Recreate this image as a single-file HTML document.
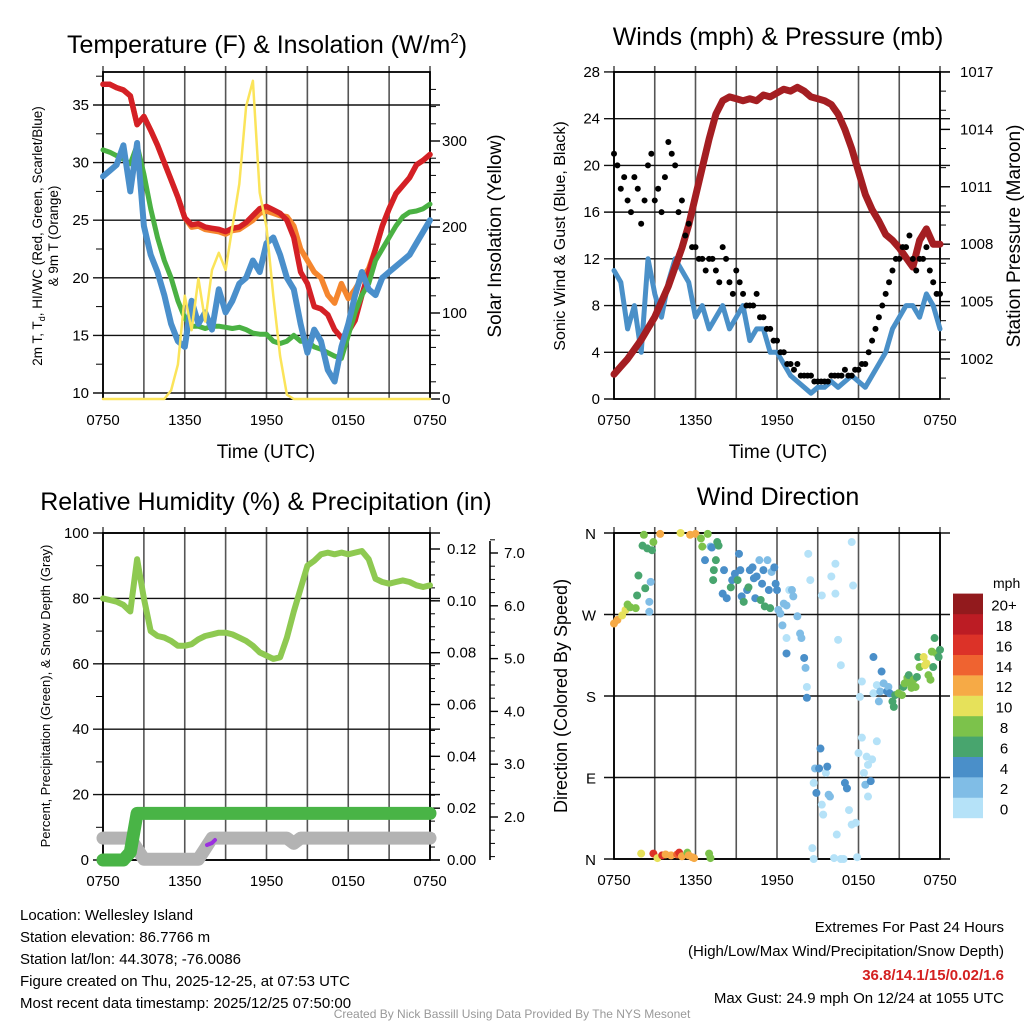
<!DOCTYPE html>
<html><head><meta charset="utf-8"><style>
body{margin:0;background:#fff;}
svg{display:block;font-family:"Liberation Sans",sans-serif;}
</style></head><body>
<svg id="chart" width="1024" height="1024" viewBox="0 0 1024 1024">
<rect width="1024" height="1024" fill="#fff"/>
<text x="267" y="53" font-size="25" text-anchor="middle">Temperature (F) &amp; Insolation (W/m<tspan font-size="15" dy="-10">2</tspan><tspan dy="10">)</tspan></text>
<text x="778" y="45" font-size="25" text-anchor="middle">Winds (mph) &amp; Pressure (mb)</text>
<text x="266" y="510" font-size="25" text-anchor="middle">Relative Humidity (%) &amp; Precipitation (in)</text>
<text x="778" y="505" font-size="25" text-anchor="middle">Wind Direction</text>
<text x="266" y="458" font-size="19" text-anchor="middle">Time (UTC)</text>
<text x="778" y="458" font-size="19" text-anchor="middle">Time (UTC)</text>
<text transform="translate(42,236) rotate(-90)" font-size="13.5" text-anchor="middle">2m T, T<tspan font-size="9" dy="3">d</tspan><tspan dy="-3">, HI/WC (Red, Green, Scarlet/Blue)</tspan></text>
<text transform="translate(58,236) rotate(-90)" font-size="13.5" text-anchor="middle">&amp; 9m T (Orange)</text>
<text transform="translate(501,236) rotate(-90)" font-size="19" text-anchor="middle">Solar Insolation (Yellow)</text>
<text transform="translate(565,236) rotate(-90)" font-size="16" text-anchor="middle">Sonic Wind &amp; Gust (Blue, Black)</text>
<text transform="translate(1020,236) rotate(-90)" font-size="19" text-anchor="middle">Station Pressure (Maroon)</text>
<text transform="translate(50,696) rotate(-90)" font-size="13" text-anchor="middle">Percent, Precipitation (Green), &amp; Snow Depth (Gray)</text>
<text transform="translate(567,696) rotate(-90)" font-size="18" text-anchor="middle">Direction (Colored By Speed)</text>
<text x="993" y="588" font-size="14">mph</text>
<g font-size="15">
<text x="20" y="920">Location: Wellesley Island</text>
<text x="20" y="942">Station elevation: 86.7766 m</text>
<text x="20" y="964">Station lat/lon: 44.3078; -76.0086</text>
<text x="20" y="986">Figure created on Thu, 2025-12-25, at 07:53 UTC</text>
<text x="20" y="1008">Most recent data timestamp: 2025/12/25 07:50:00</text>
</g>
<g font-size="15" text-anchor="end">
<text x="1004" y="932">Extremes For Past 24 Hours</text>
<text x="1004" y="956">(High/Low/Max Wind/Precipitation/Snow Depth)</text>
<text x="1004" y="980" fill="#d42020" font-weight="bold">36.8/14.1/15/0.02/1.6</text>
<text x="1004" y="1003">Max Gust: 24.9 mph On 12/24 at 1055 UTC</text>
</g>
<text x="512" y="1018" font-size="12" fill="#999" text-anchor="middle">Created By Nick Bassill Using Data Provided By The NYS Mesonet</text>
</svg>
<script>
// ---- data (half-hour samples, 0750 -> 0750 UTC) ----
const timeLabels = ["0750","1350","1950","0150","0750"];
const tempHI = [36.8,36.8,36.5,36.3,35.8,33.3,34,32.8,31.5,30,28.5,27,25.2,24.6,24.7,24.4,24.3,24.2,24.0,24.3,24.4,24.8,25.4,26.0,26.2,25.9,25.6,25.0,23.5,20.5,19.5,17.5,17.3,16.8,15.5,14.8,15.3,16.3,18.5,20.5,22.5,24.5,26,27.3,28,28.7,29.8,30.2,30.7];
const temp9m = [36.8,36.8,36.5,36.3,35.8,33.3,34,32.8,31.5,30,28.5,27,25.2,24.4,24.5,24.2,24.1,24.0,23.8,24.1,24.2,24.6,25.0,25.6,25.8,25.6,25.4,25.3,24.5,22.5,21.5,20.5,20,18.5,17.8,19.5,18.2,19,20,20.8,22.5,24.5,26,27.3,28,28.7,29.8,30.2,30.7];
const dewpt = [31.1,30.9,30.6,30.3,29.9,31.5,29,26,23.5,21.5,20,18,16.5,15.8,15.8,15.6,15.8,15.8,15.7,15.6,15.7,15.5,15.2,15.1,15.1,14.5,14.3,14.5,15.0,14.5,14.5,14,13.8,13.5,13.2,13,15,17,18.5,19.5,21.5,22.5,23.5,24.5,25.3,25.7,25.8,26,26.4];
const windChill = [28.8,29.3,29.8,31.5,27.5,31.7,24.5,22,20.5,18.5,16,14.5,14,18,16,17,15.5,19,17,18,19.5,20,21.5,20.5,23,23.5,22,20,19,16,13.5,15.5,14.5,12,11,14,16,18.5,20.5,19,18.5,20,20.5,21,21.5,22,23,24,25];
const solar = [0,0,0,0,0,0,0,0,0,0,10,40,120,80,140,90,150,170,150,200,250,340,370,240,200,120,50,5,0,0,0,0,0,0,0,0,0,0,0,0,0,0,0,0,0,0,0,0,0];
const wind = [11,10,6,8,4,12,9,7,10,12,11,10,7,8,6,7,8,6,7,8,5,6,6,4,4,3,2,1.5,1,0.5,1,1,1.5,1,1.5,2,1.5,1,2,3,4,6,7,8,8,7,9,8,6];
const gust = [21,18,17,19,15,20,17,16,22,20,17,15,13,12,12,11,13,10,11,9,8,9,7,6,5,4,3,3,2,2,1.5,1.5,2,2,2.5,2,2.5,3,5,7,9,11,12,13,12,12,13,10,9];
const gust2 = [20,19,16,18,17,21,18,19,21,16,14,13,12,11,12,10,12,9,10,8,8,7,6,5,4,3,2.5,2,2,1.5,1.5,1.5,2,2,2,2.5,3,4,6,8,10,12,13,14,11,12,11,9];
const pressure = [1001.2,1001.6,1002,1002.5,1003,1003.6,1004.2,1005,1005.8,1006.8,1007.8,1009,1010.5,1012,1013.5,1014.8,1015.5,1015.7,1015.6,1015.5,1015.6,1015.5,1015.8,1015.7,1015.9,1016.1,1016.0,1016.2,1016.0,1015.7,1015.6,1015.5,1015.3,1014.8,1014.0,1013.0,1011.8,1010.6,1009.8,1009.2,1008.5,1008.2,1007.8,1007.3,1006.8,1008.2,1008.8,1008.0,1008.0];
const humidity = [80,79.5,79,78,76,92,80,70,68.5,68,67,65.5,65.5,66,67.5,68.5,69,69.5,69.5,69,68,67,65.5,63.5,62.5,61.5,62,68,76,83,90,91.5,93.5,94,93.5,94,93.5,94,94.5,92,86,85,84.5,85,85.5,85,84,83.5,84];
const precip = [0,0,0,0,0.003,0.018,0.018,0.018,0.018,0.018,0.018,0.018,0.018,0.018,0.018,0.018,0.018,0.018,0.018,0.018,0.018,0.018,0.018,0.018,0.018,0.018,0.018,0.018,0.018,0.018,0.018,0.018,0.018,0.018,0.018,0.018,0.018,0.018,0.018,0.018,0.018,0.018,0.018,0.018,0.018,0.018,0.018,0.018,0.018];
const snow = [1.6,1.6,1.6,1.6,1.6,1.4,1.2,1.2,1.2,1.2,1.2,1.2,1.2,1.2,1.2,1.4,1.6,1.6,1.6,1.6,1.6,1.6,1.6,1.6,1.6,1.6,1.6,1.6,1.5,1.6,1.6,1.6,1.6,1.6,1.6,1.6,1.6,1.6,1.6,1.6,1.6,1.6,1.6,1.6,1.6,1.6,1.6,1.6,1.6];
const dirHours = [0,0.25,0.6,0.85,1.2,1.6,1.0,1.7,1.8,2.3,2.6,2.6,2.7,2.1,2.45,2.8,2.9,2.2,3.4,4.9,5.6,6.0,6.4,6.5,6.9,7.1,7.2,6.7,7.6,7.7,7.5,7.35,7.3,8.1,8.0,8.3,8.6,8.7,8.9,9.1,9.2,9.3,9.4,9.55,9.8,9.9,10.0,10.2,10.3,10.4,10.5,10.7,10.8,10.9,11.0,11.1,11.3,11.4,11.5,11.6,11.8,11.9,12.0,12.1,12.25,12.4,12.5,12.7,12.9,13.1,13.2,13.5,13.7,13.8,14.0,14.1,14.2,14.2,12.7,12.7,14.3,14.45,15.3,16.0,16.3,16.5,16.7,16.3,17.5,17.6,
14.6,14.7,14.7,14.8,14.9,15.1,15.2,15.3,15.4,15.6,15.7,15.8,15.9,16.4,16.2,16.7,16.9,17.0,17.15,17.3,17.5,17.8,17.9,18.0,18.1,18.25,18.25,18.4,18.5,18.6,18.7,18.7,18.9,19.0,19.1,19.1,19.35,19.35,19.5,19.6,19.7,19.85,20.1,20.2,20.3,20.5,20.6,20.7,20.95,21.2,21.3,21.4,21.6,21.7,21.8,21.9,22.05,22.2,22.3,22.4,22.5,22.8,22.9,23.0,23.15,23.3,23.4,23.5,23.6,23.75,23.9,24.0,
2.0,2.9,3.2,3.55,3.8,4.2,4.65,4.8,5.0,5.4,5.5,5.75,5.9,7.0,7.1];
const dirDegrees = [260,264,269,275,278,277,281,291,313,299,284,273,306,346,343,341,350,358,359,360,358,359,354,345,359,345,344,330,350,346,330,319,308,319,293,288,300,308,315,308,337,319,290,284,297,300,319,322,310,288,312,330,286,304,319,279,330,297,277,317,322,304,297,275,271,258,282,280,297,297,290,268,249,244,222,211,190,178,227,244,337,308,291,312,326,242,214,293,350,302,
12,0,84,100,73,100,122,60,49,95,102,71,69,27,1,0,0,84,78,54,38,40,2,117,179,196,134,95,82,113,104,69,86,110,223,183,130,192,174,185,207,194,185,190,183,174,168,181,183,181,190,194,200,203,194,189,198,190,201,223,212,223,214,216,203,198,229,212,244,227,223,231,
6,6,1,4,5,4,5,7,3,7,4,2,1,6,1];
const dirSpeeds = [12,12,11,10,8,8,8,6,6,6,3,2,2,6,6,6,8,8,12,10,12,12,8,8,8,2,4,4,6,6,6,6,6,4,4,4,6,4,4,6,4,4,4,6,4,6,4,4,4,4,4,2,6,4,4,6,2,4,6,2,4,4,4,2,2,2,2,2,0,2,2,2,2,2,4,2,0,4,4,0,0,0,0,0,0,0,0,0,0,0,
0,0,0,2,4,4,4,0,0,0,4,2,2,0,0,0,0,4,4,0,0,0,0,0,0,0,0,0,2,0,0,0,4,0,4,0,0,0,2,2,4,2,4,2,4,6,6,6,8,8,6,8,8,6,8,8,8,8,6,6,8,10,10,10,8,8,8,6,6,8,6,6,
10,16,10,16,12,12,14,16,12,8,12,12,12,8,8];
const speedBins = ["0","2","4","6","8","10","12","14","16","18","20+"];
const binColors = ["#b5e2f8","#80bde6","#4a8fc9","#48a56e","#7cc24b","#e6e15a","#f6aa46","#ef6330","#dc3228","#bc1c24","#921a1d"];

const NS = "http://www.w3.org/2000/svg";
const svg = document.getElementById("chart");
function mk(tag, attrs, parent){const e=document.createElementNS(NS,tag);for(const k in attrs)e.setAttribute(k,attrs[k]);(parent||svg).appendChild(e);return e;}
function txt(x,y,s,size,anchor,parent){const t=mk("text",{x:x,y:y,"font-size":size,"text-anchor":anchor},parent);t.textContent=s;return t;}

function makePanel(name,x0,x1,yTop,yBot){
  const g=mk("g",{});
  
  
  const xs=h=>x0+h/24*(x1-x0);
  for(let k=0;k<=8;k++){
    const ln=mk("line",{x1:xs(k*3),x2:xs(k*3),y1:yTop-6,y2:yBot,stroke:"#555","stroke-width":1.6},g);
    
    
  }
  timeLabels.forEach((s,k)=>{
    const t=txt(xs(k*6),yBot+26,s,15,"middle",g);
    
    
  });
  return {g,xs};
}
function hline(g,x0,x1,y,name){const l=mk("line",{x1:x0-10,x2:x1+10,y1:y,y2:y,stroke:"#111","stroke-width":1.4},g);}
function frame(g,x0,x1,y0,y1){const r=mk("rect",{x:x0,y:y0,width:x1-x0,height:y1-y0,fill:"none",stroke:"#000","stroke-width":1.8},g);}
function path(g,vals,xf,yf,color,w,name,offset){
  let d="";vals.forEach((v,i)=>{d+=(i?"L":"M")+xf((i+(offset||0))/2).toFixed(1)+","+yf(v).toFixed(1);});
  const p=mk("path",{d:d,fill:"none",stroke:color,"stroke-width":w,"stroke-linejoin":"round","stroke-linecap":"round"},g);
  
  
  return p;
}

// ---- Panel 1: temperature ----
{
  const X0=103,X1=430,YT=72,YB=399;
  const {g,xs}=makePanel("temperature-panel",X0,X1,YT,YB);
  const yT=t=>393-(t-10)*11.52, yS=s=>399-s*0.86;
  [10,15,20,25,30,35].forEach(t=>{hline(g,X0,X1,yT(t),"y-gridline");const l=txt(X0-14,yT(t)+5,String(t),15,"end",g);});
  for(let t=12.5;t<38;t+=5){mk("line",{x1:X0-7,x2:X0,y1:yT(t),y2:yT(t),stroke:"#000"},g);}
  [0,100,200,300].forEach(s=>{mk("line",{x1:X1,x2:X1+10,y1:yS(s),y2:yS(s),stroke:"#000","stroke-width":1.4},g);const l=txt(X1+12,yS(s)+5,String(s),15,"start",g);});
  for(let s=20;s<370;s+=20){if(s%100)mk("line",{x1:X1,x2:X1+6,y1:yS(s),y2:yS(s),stroke:"#000"},g);}
  frame(g,X0,X1,YT,YB);
  path(g,temp9m,xs,yT,"#f5862e",5.5,"series-9m-temp");
  path(g,tempHI,xs,yT,"#d42026",5.5,"series-heat-index");
  path(g,dewpt,xs,yT,"#4ab143",5,"series-dewpoint");
  path(g,windChill,xs,yT,"#4a8fcb",6,"series-wind-chill");
  path(g,solar,xs,yS,"#fbe45a",2.5,"series-solar");
}
// ---- Panel 2: winds & pressure ----
{
  const X0=614,X1=940,YT=72,YB=399;
  const {g,xs}=makePanel("wind-panel",X0,X1,YT,YB);
  const yW=w=>399-w*11.68, yP=p=>72+(1017-p)*19.13;
  for(let w=0;w<=28;w+=4){hline(g,X0,X1,yW(w),"y-gridline");const l=txt(X0-14,yW(w)+5,String(w),15,"end",g);}
  for(let p=1002;p<=1017;p+=3){mk("line",{x1:X1,x2:X1+10,y1:yP(p),y2:yP(p),stroke:"#000","stroke-width":1.4},g);const l=txt(X1+20,yP(p)+5,String(p),15,"start",g);}
  for(let p=1001;p<1017;p+=1){if((p-1002)%3)mk("line",{x1:X1,x2:X1+6,y1:yP(p),y2:yP(p),stroke:"#000"},g);}
  frame(g,X0,X1,YT,YB);
  path(g,wind,xs,yW,"#4a90c8",5,"series-sonic-wind");
  path(g,pressure,xs,yP,"#a41e22",7,"series-pressure");
  gust.forEach((v,i)=>{const c=mk("circle",{cx:xs(i/2),cy:yW(v),r:3,fill:"#000"},g);});
  gust2.forEach((v,i)=>{const c=mk("circle",{cx:xs((i+0.5)/2),cy:yW(v),r:3,fill:"#000"},g);});
}
// ---- Panel 3: humidity / precip / snow ----
{
  const X0=103,X1=430,YT=533,YB=860;
  const {g,xs}=makePanel("humidity-panel",X0,X1,YT,YB);
  const yH=h=>860-h*3.27, yPr=p=>860-p/0.12*311, ySn=s=>817-(s-2)*52.8;
  for(let h=0;h<=100;h+=20){hline(g,X0,X1,yH(h),"y-gridline");const l=txt(X0-14,yH(h)+5,String(h),15,"end",g);}
  for(let h=10;h<100;h+=20)mk("line",{x1:X0-7,x2:X0,y1:yH(h),y2:yH(h),stroke:"#000"},g);
  for(let p=0;p<=0.1201;p+=0.02){mk("line",{x1:X1,x2:X1+10,y1:yPr(p),y2:yPr(p),stroke:"#000","stroke-width":1.4},g);const l=txt(X1+17,yPr(p)+5,p.toFixed(2),15,"start",g);}
  for(let p=0.005;p<0.125;p+=0.005){mk("line",{x1:X1,x2:X1+5,y1:yPr(p),y2:yPr(p),stroke:"#000"},g);}
  const ax=mk("line",{x1:490,x2:490,y1:541,y2:860,stroke:"#000","stroke-width":1.6},g);
  
  
  for(let s=2;s<=7;s++){mk("line",{x1:490,x2:498,y1:ySn(s),y2:ySn(s),stroke:"#000","stroke-width":1.4},g);const l=txt(504,ySn(s)+5,s.toFixed(1),15,"start",g);}
  for(let s=1.25;s<7.3;s+=0.25){if(s%1)mk("line",{x1:490,x2:495,y1:ySn(s),y2:ySn(s),stroke:"#000"},g);}
  frame(g,X0,X1,YT,YB);
  path(g,snow,xs,ySn,"#b3b3b3",13,"series-snow-depth");
  path(g,precip,xs,yPr,"#49b446",13,"series-precipitation");
  path(g,humidity,xs,yH,"#8ec951",6,"series-humidity");
  const pu=mk("path",{d:"M207,845 L212,843 L215,840",stroke:"#9b30e0","stroke-width":4,fill:"none","stroke-linecap":"round"},g);
  
  
}
// ---- Panel 4: wind direction ----
{
  const X0=614,X1=940,YT=533,YB=859;
  const {g,xs}=makePanel("direction-panel",X0,X1,YT,YB);
  const yD=d=>859-d/360*326;
  [["N",360],["W",270],["S",180],["E",90],["N",0]].forEach(([s,d])=>{hline(g,X0,X1,yD(d),"y-gridline");const l=txt(X0-18,yD(d)+6,s,15,"end",g);});
  frame(g,X0,X1,YT,YB);
  dirHours.forEach((h,i)=>{
    const b=Math.min(10,Math.floor(dirSpeeds[i]/2));
    const c=mk("circle",{cx:xs(h),cy:yD(dirDegrees[i]),r:4,fill:binColors[b]},g);
    
    
  });
  const cb=mk("g",{});
  
  
  speedBins.forEach((s,k)=>{
    const y=818-(k+1)*20.4;
    const r=mk("rect",{x:953,y:y,width:30,height:20.6,fill:binColors[k]},cb);
    
    
    const t=txt(1004,y+17,s,15,"middle",cb);
    
    
  });
}
</script>
</body></html>
